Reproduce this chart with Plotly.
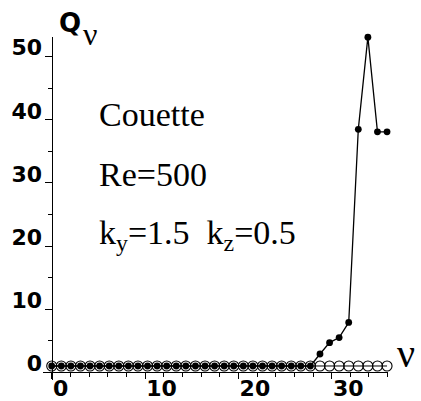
import plotly.graph_objects as go

# ---- data ----
nu = list(range(36))
q_filled = [1.0] * 28 + [2.9, 4.7, 5.5, 7.9, 38.5, 53.1, 38.1, 38.1]
q_open = [1.0] * 36

x_tick_labels = ["0", "10", "20", "30"]
x_tick_units = [0, 10, 20, 30]
x_minor_units = [v for v in range(0, 37, 2) if v % 10 != 0]
y_tick_vals = [0, 10, 20, 30, 40, 50]

# reference draws its x tick marks slightly compressed relative to the points
tick_scale = 0.974

W, H = 421, 401
ML, MR, MT, MB = 43, 33, 37, 21
PW, PH = W - ML - MR, H - MT - MB


def px(x):
    return (x - ML) / PW


def py(y):
    return (H - MB - y) / PH


xr = [-0.91, 35.1]
yr = [-1.22, 53.12]

fig = go.Figure()
fig.add_trace(go.Scatter(
    x=nu, y=q_open, mode="lines+markers",
    line=dict(color="black", width=1),
    marker=dict(symbol="circle-open", size=10, color="black", line=dict(width=1.1)),
    cliponaxis=False, showlegend=False))
fig.add_trace(go.Scatter(
    x=nu, y=q_filled, mode="lines+markers",
    line=dict(color="black", width=1.3),
    marker=dict(symbol="circle", size=6.8, color="black"),
    cliponaxis=False, showlegend=False))

tickfont = dict(family="DejaVu Sans", size=22, color="black", weight="bold")

fig.update_layout(
    width=W, height=H,
    margin=dict(l=ML, r=MR, t=MT, b=MB),
    paper_bgcolor="white", plot_bgcolor="white",
    xaxis=dict(
        range=xr, anchor="free", position=(0 - yr[0]) / (yr[1] - yr[0]), automargin=False,
        showgrid=False, zeroline=False, showline=True, linecolor="black", linewidth=1.3,
        tickmode="array", tickvals=[v * tick_scale for v in x_tick_units], ticktext=x_tick_labels,
        ticks="outside", ticklen=6, tickwidth=1.2, tickcolor="black",
        ticklabelposition="outside right", ticklabelstandoff=-4, tickfont=tickfont,
        minor=dict(tickmode="array", tickvals=[v * tick_scale for v in x_minor_units],
                   ticks="outside", ticklen=4, tickwidth=1.2, tickcolor="black", showgrid=False),
    ),
    yaxis=dict(
        range=yr, anchor="free", position=(0 - xr[0]) / (xr[1] - xr[0]), automargin=False,
        showgrid=False, zeroline=False, showline=True, linecolor="black", linewidth=1.3,
        tickmode="array", tickvals=y_tick_vals,
        ticks="outside", ticklen=7, tickwidth=1.2, tickcolor="black",
        ticklabelposition="outside top", ticklabelshift=7, ticklabelstandoff=5,
        tickfont=tickfont,
        minor=dict(dtick=5, ticks="outside", ticklen=3.5, tickwidth=1.2, tickcolor="black", showgrid=False),
    ),
)

serif = "Liberation Serif"
anns = [
    dict(text="Q", x=px(57), y=py(5.5), xanchor="left", yanchor="top",
         font=dict(family="DejaVu Sans", size=26, color="black", weight="bold")),
    dict(text="ν", x=px(80.5), y=py(14), xanchor="left", yanchor="top",
         font=dict(family=serif, size=32, color="black")),
    dict(text="ν", x=px(395), y=py(329), xanchor="left", yanchor="top",
         font=dict(family=serif, size=40, color="black")),
    dict(text="Couette", x=px(97), y=py(135), xanchor="left", yanchor="bottom",
         font=dict(family=serif, size=34, color="black")),
    dict(text="Re=500", x=px(97), y=py(195), xanchor="left", yanchor="bottom",
         font=dict(family=serif, size=34, color="black")),
    dict(text="k<sub>y</sub>=1.5&nbsp;&nbsp;k<sub>z</sub>=0.5", x=px(97), y=py(258),
         xanchor="left", yanchor="bottom",
         font=dict(family=serif, size=34, color="black")),
]
for a in anns:
    a.update(xref="paper", yref="paper", showarrow=False)
fig.update_layout(annotations=anns)

fig.write_html("out.html")
